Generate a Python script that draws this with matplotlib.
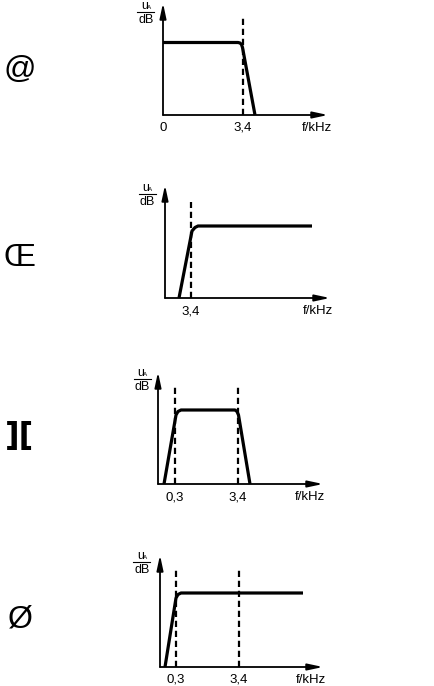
import matplotlib
matplotlib.use("Agg")
import matplotlib.pyplot as plt

W, H = 435, 686
DPI = 100

# ---- data (schematic units: offsets from axis origin) ----
panel_labels = ["@", "Œ", "][", "Ø"]

p1_x = [0, 75, 77, 78.5, 79.5, 92]
p1_y = [72.5, 72.5, 72, 70.5, 67.5, 0]
p1_dash = [80]
p1_ticks = ["0", "3,4"]
p1_tick_pos = [0, 80]

p2_x = [14, 27, 30, 33, 35, 147]
p2_y = [0, 67, 70.5, 72, 72, 72]
p2_dash = [26]
p2_ticks = ["3,4"]
p2_tick_pos = [26]

p3_x = [6, 18, 20, 23, 77, 79, 80.5, 92]
p3_y = [0, 69, 72.5, 74, 74, 72.5, 69, 0]
p3_dash = [17, 80]
p3_ticks = ["0,3", "3,4"]
p3_tick_pos = [17, 80]

p4_x = [5, 16, 18, 21, 23, 143]
p4_y = [0, 69, 72.5, 74, 74, 74]
p4_dash = [16, 79]
p4_ticks = ["0,3", "3,4"]
p4_tick_pos = [16, 79]

# layout (pixel positions in figure)
panels = [
    dict(x=p1_x, y=p1_y, dash=p1_dash, dtop=100, ticks=p1_ticks, tpos=p1_tick_pos,
         origin=(163, 115), xend=165, ytop=112, fpos=154, ylab=(-17, 92), label_c=(20, 70)),
    dict(x=p2_x, y=p2_y, dash=p2_dash, dtop=96, ticks=p2_ticks, tpos=p2_tick_pos,
         origin=(165, 298), xend=165, ytop=113, fpos=153, ylab=(-18, 93), label_c=(20, 258)),
    dict(x=p3_x, y=p3_y, dash=p3_dash, dtop=99, ticks=p3_ticks, tpos=p3_tick_pos,
         origin=(158, 484), xend=165, ytop=112, fpos=152, ylab=(-16, 94), label_c=(20, 436)),
    dict(x=p4_x, y=p4_y, dash=p4_dash, dtop=97, ticks=p4_ticks, tpos=p4_tick_pos,
         origin=(160, 667), xend=163, ytop=112, fpos=151, ylab=(-18, 94), label_c=(20, 620)),
]

plt.rcParams['font.family'] = ['Liberation Sans', 'DejaVu Sans']
fig = plt.figure(figsize=(W / DPI, H / DPI), dpi=DPI)

XL, XR, YB, YT = -35, 180, -22, 122
for p in panels:
    ox, oy = p["origin"]
    left = (ox + XL) / W
    bottom = 1 - (oy - YB) / H
    ax = fig.add_axes([left, bottom, (XR - XL) / W, (YT - YB) / H])
    ax.set_xlim(XL, XR)
    ax.set_ylim(YB, YT)
    ax.axis("off")
    # axes arrows
    ap = dict(arrowstyle='-|>,head_width=0.16,head_length=0.75', lw=1.3, color='k',
              mutation_scale=12, shrinkA=0, shrinkB=0)
    ax.annotate('', xy=(p["xend"], 0), xytext=(0, 0), arrowprops=ap)
    ax.annotate('', xy=(0, p["ytop"]), xytext=(0, 0), arrowprops=ap)
    # dashed lines
    for d in p["dash"]:
        ax.plot([d, d], [0, p["dtop"]], color='k', lw=1.6, ls=(0, (2.8, 1.7)),
                solid_capstyle='butt', dash_capstyle='butt')
    # curve
    ax.plot(p["x"], p["y"], color='k', lw=2.3, solid_joinstyle='round',
            solid_capstyle='butt')
    # tick labels
    for t, tp in zip(p["ticks"], p["tpos"]):
        ax.text(tp, -13, t, ha='center', va='center', fontsize=9.5)
    ax.text(p["fpos"], -13, "f/kHz", ha='center', va='center', fontsize=9.5)
    # y label: u_A over dB
    yx, yd = p["ylab"]
    ax.text(yx - 1.5, yd + 14, "u", ha='center', va='baseline', fontsize=9)
    ax.text(yx + 3.5, yd + 13.8, "A", ha='center', va='baseline', fontsize=4.5)
    ax.plot([yx - 8.5, yx + 8.5], [yd + 11, yd + 11], color='k', lw=0.8)
    ax.text(yx, yd, "dB", ha='center', va='baseline', fontsize=9)

# big option labels
for p, lab in zip(panels, panel_labels):
    cx, cy = p["label_c"]
    fam = ['DejaVu Sans'] if lab == "][" else ['Liberation Sans', 'DejaVu Sans']
    fig.text(cx / W, 1 - cy / H, lab, ha='center', va='center', fontsize=23,
             family=fam, fontweight='bold' if lab == "][" else 'normal')

fig.savefig("out.png", dpi=DPI, facecolor='white')
